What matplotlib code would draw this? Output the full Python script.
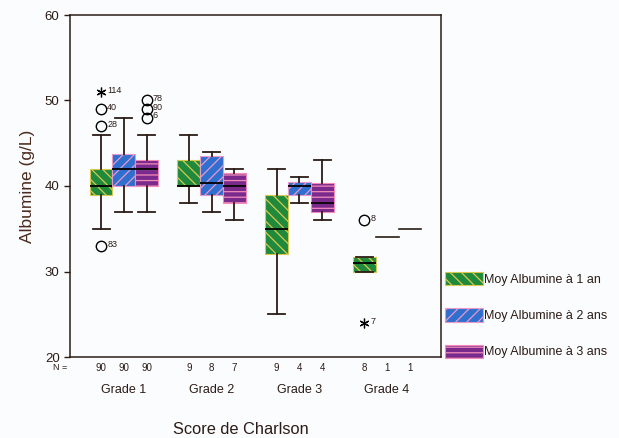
import matplotlib
matplotlib.use("Agg")
import matplotlib.pyplot as plt
from matplotlib.patches import Patch

# groups and series
grades = ["Grade 1", "Grade 2", "Grade 3", "Grade 4"]
series = ["Moy Albumine à 1 an", "Moy Albumine à 2 ans", "Moy Albumine à 3 ans"]

# box statistics per series, one value per grade
q1_1 = [39, 40, 32, 30]
med_1 = [40, 40, 35, 31]
q3_1 = [42, 43, 39, 31.7]
lo_1 = [35, 38, 25, 30]
hi_1 = [46, 46, 42, 31.7]
n_1 = [90, 9, 9, 8]

q1_2 = [40, 39, 39, 34]
med_2 = [42, 40.4, 40, 34]
q3_2 = [43.8, 43.5, 40.5, 34]
lo_2 = [37, 37, 38, 34]
hi_2 = [48, 44, 41, 34]
n_2 = [90, 8, 4, 1]

q1_3 = [40, 38, 37, 35]
med_3 = [42, 40, 38, 35]
q3_3 = [43, 41.5, 40.4, 35]
lo_3 = [37, 36, 36, 35]
hi_3 = [46, 42, 43, 35]
n_3 = [90, 7, 4, 1]

# outliers: grade index, series index, value, case label, kind
out_grade = [0, 0, 0, 0, 0, 0, 0, 3, 3]
out_series = [0, 0, 0, 0, 2, 2, 2, 0, 0]
out_value = [51, 49, 47, 33, 50, 49, 48, 36, 24]
out_label = ["114", "40", "28", "83", "78", "90", "6", "8", "7"]
out_kind = ["*", "o", "o", "o", "o", "o", "o", "o", "*"]

face = ["#1f8a3c", "#2f6fcf", "#7a2a8c"]
hatchc = ["#d6c850", "#e79ac8", "#f28bb8"]
hatches = ["\\\\\\", "///", "---"]
ink = "#2b1c16"

stats = [
    (q1_1, med_1, q3_1, lo_1, hi_1, n_1),
    (q1_2, med_2, q3_2, lo_2, hi_2, n_2),
    (q1_3, med_3, q3_3, lo_3, hi_3, n_3),
]

plt.rcParams["font.family"] = ["Liberation Sans", "DejaVu Sans"]
plt.rcParams["hatch.linewidth"] = 0.9

fig = plt.figure(figsize=(6.19, 4.38), dpi=100, facecolor="#fbfcfe")
ax = fig.add_axes([70 / 619, 1 - 357 / 438, 371 / 619, 342 / 438])
ax.set_facecolor("#fbfcfe")

offset = 0.26
width = 0.26
for s, (q1, med, q3, lo, hi, n) in enumerate(stats):
    for g in range(len(grades)):
        x = g + 1 + (s - 1) * offset
        ax.text(x, -0.032, str(n[g]), transform=ax.get_xaxis_transform(),
                ha="center", va="center", fontsize=7, color=ink)
        if n[g] == 1:
            ax.plot([x - width / 2, x + width / 2], [med[g], med[g]], color=ink, lw=1.2)
            continue
        bstat = [dict(q1=q1[g], med=med[g], q3=q3[g], whislo=lo[g], whishi=hi[g], fliers=[])]
        b = ax.bxp(bstat, positions=[x], widths=width, patch_artist=True,
                   showfliers=False, manage_ticks=False,
                   boxprops=dict(facecolor=face[s], edgecolor=hatchc[s], lw=0.8),
                   medianprops=dict(color="black", lw=1.3),
                   whiskerprops=dict(color=ink, lw=1.3),
                   capprops=dict(color=ink, lw=1.3), capwidths=width * 0.75)
        for p in b["boxes"]:
            p.set_hatch(hatches[s])

for g, s, v, lab, k in zip(out_grade, out_series, out_value, out_label, out_kind):
    x = g + 1 + (s - 1) * offset
    if k == "o":
        ax.plot(x, v, marker="o", ms=7.5, mfc="none", mec="black", mew=1.0)
    else:
        ax.plot(x, v, marker=(6, 2, 0), ms=7, color="black", mew=0.9)
    ax.text(x + 0.07, v + 0.2, lab, fontsize=6.5, color=ink, ha="left", va="center")

ax.text(0.36, -0.032, "N =", transform=ax.get_xaxis_transform(),
        ha="right", va="center", fontsize=6.5, color=ink)
for g, name in enumerate(grades):
    ax.text(g + 1, -0.097, name, transform=ax.get_xaxis_transform(),
            ha="center", va="center", fontsize=9, color=ink)

ax.set_xlim(0.386, 4.614)
ax.set_ylim(20, 60)
ax.set_xticks([])
ax.set_yticks([20, 30, 40, 50, 60])
ax.tick_params(axis="y", direction="out", length=4, width=1, labelsize=9.5, colors=ink)
for sp in ax.spines.values():
    sp.set_color(ink)
    sp.set_linewidth(1.1)

ax.set_ylabel("Albumine (g/L)", fontsize=12.5, color="#4a2a1c", labelpad=7)
fig.text(241 / 619, 1 - 430 / 438, "Score de Charlson", ha="center", va="center",
         fontsize=11.8, color=ink)

handles = [Patch(facecolor=face[i], edgecolor=hatchc[i], hatch=hatches[i], lw=0.8)
           for i in range(3)]
fig.legend(handles, series, loc="center left", bbox_to_anchor=(445 / 619, 1 - 315 / 438),
           frameon=False, fontsize=9, handlelength=3.0, handleheight=1.3,
           handletextpad=0.1, labelspacing=1.8, borderaxespad=0, borderpad=0,
           labelcolor=ink)

fig.savefig("out.png", dpi=100, facecolor=fig.get_facecolor())
